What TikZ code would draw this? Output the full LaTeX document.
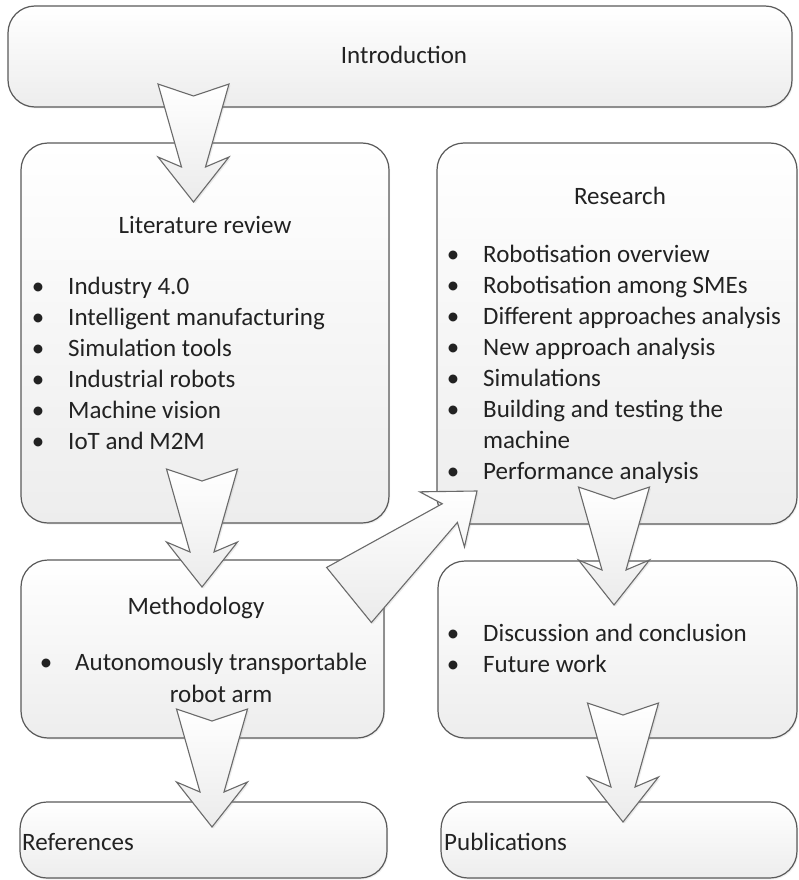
\documentclass[tikz,border=0pt]{standalone}
\usepackage{fontspec}
\setmainfont{Carlito}
\usetikzlibrary{calc,shadows}

\definecolor{boxline}{HTML}{5A5A5A}
\definecolor{boxbot}{HTML}{EDEDED}
\definecolor{arrline}{HTML}{6A6A6A}
\definecolor{arrbot}{HTML}{EBEBEB}
\definecolor{textcol}{HTML}{222222}

\newcommand\bodysize{\fontsize{25}{31}\selectfont}

% tapered block arrow from tail centre #1 to tip #2, tail notch depth #3
\newcommand\taperarrow[3]{%
  \coordinate (tpN) at ($(#2)!35pt!(#1)$);
  \coordinate (tpW) at ($(#2)!45pt!(#1)$);
  \path[arrowbody]
    ($(#1)!35.5pt!90:(#2)$) -- ($(#1)!#3!(#2)$) -- ($(#1)!35.5pt!-90:(#2)$)
    -- ($(tpN)!12pt!-90:(#2)$) -- ($(tpW)!35.5pt!-90:(#2)$) -- (#2)
    -- ($(tpW)!35.5pt!90:(#2)$) -- ($(tpN)!12pt!90:(#2)$) -- cycle;
}

\tikzset{
  box/.style={draw=boxline, line width=1.2pt, rounded corners=27pt,
    top color=white, bottom color=boxbot, inner sep=0pt,
    drop shadow={shadow xshift=1.2pt, shadow yshift=-1.5pt, opacity=0.12}},
  arrowbody/.style={draw=arrline, line width=1.1pt, line join=miter,
    top color=white, bottom color=arrbot,
    drop shadow={shadow xshift=1.5pt, shadow yshift=-1.5pt, opacity=0.15}},
  txt/.style={text=textcol, font=\bodysize, inner sep=0pt},
  item/.style={txt, anchor=base west},
  title/.style={txt, anchor=base},
  dot/.style={txt, anchor=base},
}

\begin{document}
\begin{tikzpicture}[x=1pt, y=-1pt]
\useasboundingbox (0,0) rectangle (799,880);
\fill[white] (0,0) rectangle (799,880);

% boxes
\node[box, minimum width=784pt, minimum height=101pt] (intro) at (400,56.5) {};
\node[box, minimum width=368pt, minimum height=380pt] (lit) at (205,333) {};
\node[box, minimum width=360pt, minimum height=381pt] (res) at (617,333.5) {};
\node[box, minimum width=363pt, minimum height=178pt] (meth) at (202.5,649) {};
\node[box, minimum width=359pt, minimum height=177pt] (disc) at (617.5,649.5) {};
\node[box, minimum width=367pt, minimum height=76pt] (refs) at (203.5,840) {};
\node[box, minimum width=356pt, minimum height=76pt] (pubs) at (619,840) {};

% texts
\node[title] (introtxt) at (404,64) {Introduction};
\node[title] (littxt) at (205,233) {Literature review};
\foreach \t [count=\i from 0] in {Industry 4.0, Intelligent manufacturing,
    Simulation tools, Industrial robots, Machine vision, IoT and M2M} {
  \node[dot] (litdot\i) at (38,{294+31*\i}) {•};
  \node[item] (litit\i) at (68,{294+31*\i}) {\t};
}

\node[title] (restxt) at (620,204) {Research};
\foreach \t/\k in {Robotisation overview/0, Robotisation among SMEs/1,
    Different approaches analysis/2, New approach analysis/3,
    Simulations/4, Building and testing the/5, Performance analysis/7} {
  \node[dot] (resdot\k) at (453,{262+31*\k}) {•};
  \node[item] (resit\k) at (483,{262+31*\k}) {\t};
}
\node[item] (resit6) at (483,448) {machine};

\node[title] (methtxt) at (196,614) {Methodology};
\node[dot] (methdot) at (46,670) {•};
\node[item] (methit) at (75,670) {Autonomously transportable};
\node[title] (methit2) at (221,702) {robot arm};

\node[dot] (discdot0) at (453,641) {•};
\node[item] (discit0) at (483,641) {Discussion and conclusion};
\node[dot] (discdot1) at (453,672) {•};
\node[item] (discit1) at (483,672) {Future work};

\node[item] (refstxt) at (22,850) {References};
\node[item] (pubstxt) at (444,850) {Publications};

% arrow ends
\coordinate (a1s) at (193.5,84);  \coordinate (a1e) at (193.5,202);
\coordinate (a2s) at (202,469);   \coordinate (a2e) at (202,587);
\coordinate (a3s) at (212,709);   \coordinate (a3e) at (212,827);
\coordinate (a4s) at (614,487);   \coordinate (a4e) at (614,605);
\coordinate (a5s) at (623,703);   \coordinate (a5e) at (623,822);
\coordinate (a6s) at (349,595);   \coordinate (a6e) at (477,491);

\taperarrow{a1s}{a1e}{12pt}
\taperarrow{a2s}{a2e}{12pt}
\taperarrow{a3s}{a3e}{12pt}
\taperarrow{a4s}{a4e}{12pt}
\taperarrow{a5s}{a5e}{12pt}
\taperarrow{a6s}{a6e}{0pt}
\end{tikzpicture}
\end{document}
